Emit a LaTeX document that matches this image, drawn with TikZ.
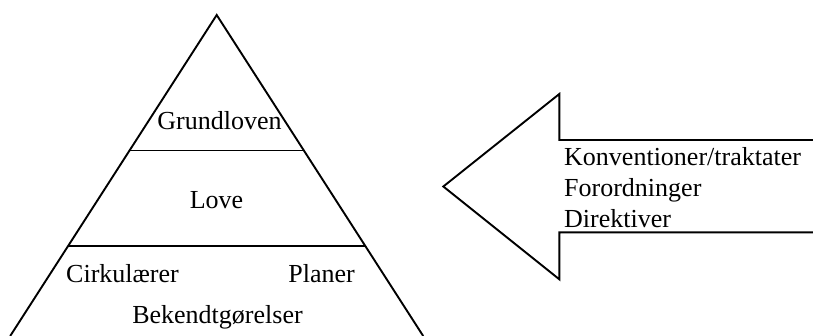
\documentclass[tikz,border=0pt]{standalone}
\usepackage{fontspec}
\setmainfont{Liberation Serif}
\tikzset{
  lbl/.style={inner sep=0pt, font=\fontsize{26}{31}\selectfont},
  edge/.style={line width=1.9pt, line join=miter}
}
\begin{document}
\begin{tikzpicture}[x=1pt,y=-1pt]
\useasboundingbox (0,0) rectangle (813,335);
\begin{scope}
\clip (0,0) rectangle (813,335);
% pyramid
\coordinate (apex) at (216.7,15);
\draw[edge] (10.2,336) -- (apex) -- (423.2,336);
\draw[edge] (129.8,150.5) -- (303.6,150.5);
\draw[edge] (68.4,246) -- (365,246);
% arrow
\draw[edge] (815,140) -- (559.3,140) -- (559.3,94) -- (443.3,186.5) -- (559.3,279.3) -- (559.3,232.3) -- (815,232.3);
\end{scope}
\node[lbl, anchor=base] (grund) at (219.5,129) {Grundloven};
\node[lbl, anchor=base] (love) at (216.5,208) {Love};
\node[lbl, anchor=base west] (cirk) at (66,282) {Cirkulærer};
\node[lbl, anchor=base east] (plan) at (355,282) {Planer};
\node[lbl, anchor=base] (bek) at (217.5,323) {Bekendtgørelser};
\node[lbl, anchor=base west] (konv) at (564,165) {Konventioner/traktater};
\node[lbl, anchor=base west] (foro) at (564,196.7) {Forordninger};
\node[lbl, anchor=base west] (dir) at (564,227.7) {Direktiver};
\end{tikzpicture}
\end{document}
